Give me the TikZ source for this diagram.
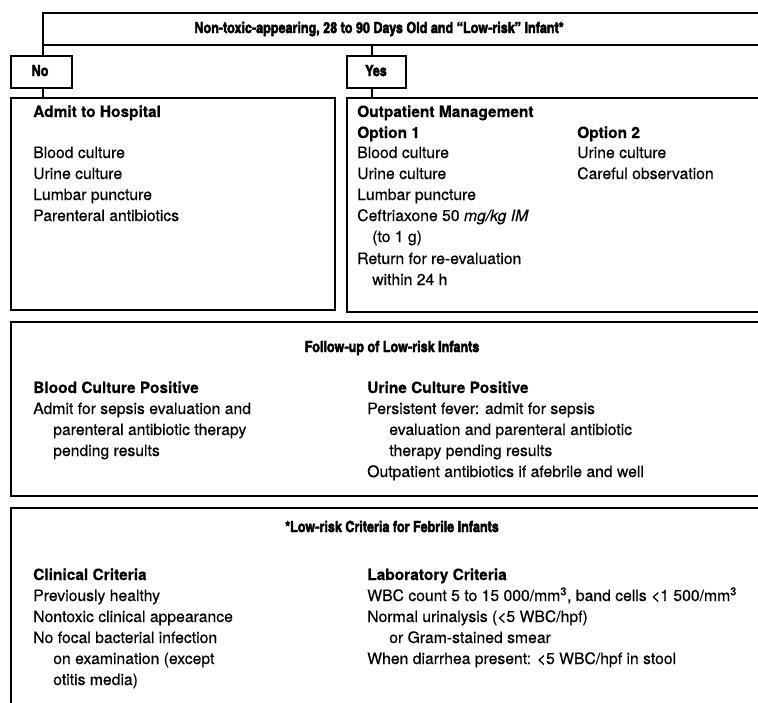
\documentclass[tikz,border=0pt]{standalone}
\usepackage{fontspec}
\setmainfont{TeX Gyre Heros}[FakeBold=0.4]
\newfontfamily\cnb{texgyreheroscn-bold.otf}[FakeBold=2.6]
\usetikzlibrary{fit}
\begin{document}
\begin{tikzpicture}[x=0.75pt,y=-0.75pt,
  box/.style={draw, line width=1.4pt, inner sep=0pt},
  link/.style={line width=1.4pt},
  txt/.style={anchor=base west, inner sep=0pt, font=\fontsize{11.8}{14}\selectfont},
  hd/.style={anchor=base west, inner sep=0pt, font=\fontsize{11.6}{14}\selectfont\bfseries},
  ttl/.style={anchor=base, inner sep=0pt, font=\fontsize{11.5}{14}\selectfont\cnb}]
\useasboundingbox (0,0) rectangle (758,703);
\clip (0,0) rectangle (758,703);
% box corners
\coordinate (t1) at (43,13);  \coordinate (t2) at (800,45);
\coordinate (n1) at (11,56);  \coordinate (n2) at (72,88);
\coordinate (y1) at (347,56); \coordinate (y2) at (406,88);
\coordinate (a1) at (11,98);  \coordinate (a2) at (335,310);
\coordinate (o1) at (347,98); \coordinate (o2) at (800,312);
\coordinate (f1) at (11,322); \coordinate (f2) at (800,496);
\coordinate (c1) at (11,508); \coordinate (c2) at (800,740);
\coordinate (nx) at (43,0);   \coordinate (yx) at (372,0);
\node[box, fit=(t1)(t2)] (top) {};
\node[box, fit=(n1)(n2)] (no) {};
\node[box, fit=(y1)(y2)] (yes) {};
\node[box, fit=(a1)(a2)] (admit) {};
\node[box, fit=(o1)(o2)] (outp) {};
\node[box, fit=(f1)(f2)] (follow) {};
\node[box, fit=(c1)(c2)] (crit) {};
% connectors
\draw[link] (top.south -| nx) -- (no.north -| nx);
\draw[link] (no.south -| nx) -- (admit.north -| nx);
\draw[link] (top.south -| yx) -- (yes.north -| yx);
\draw[link] (yes.south -| yx) -- (outp.north -| yx);
% titles
\node[ttl] (ttop) at (379,33) {Non-toxic-appearing, 28 to 90 Days Old and “Low-risk” Infant*};
\node[ttl] (tno) at (40,76) {No};
\node[ttl] (tyes) at (376,76) {Yes};
% admit
\node[hd] (ah) at (33,117) {Admit to Hospital};
\node[txt] (a1t) at (33,158) {Blood culture};
\node[txt] (a2t) at (33,179) {Urine culture};
\node[txt] (a3t) at (33,200) {Lumbar puncture};
\node[txt] (a4t) at (33,221) {Parenteral antibiotics};
% outpatient
\node[hd] (oh) at (357,117) {Outpatient Management};
\node[hd] (op1) at (357,138) {Option 1};
\node[txt] (o1a) at (357,158) {Blood culture};
\node[txt] (o1b) at (357,179) {Urine culture};
\node[txt] (o1c) at (357,200) {Lumbar puncture};
\node[txt] (o1d) at (357,221) {Ceftriaxone 50 \textit{mg/kg IM}};
\node[txt] (o1e) at (372,242) {(to 1 g)};
\node[txt] (o1f) at (357,264) {Return for re-evaluation};
\node[txt] (o1g) at (372,285) {within 24 h};
\node[hd] (op2) at (577,138) {Option 2};
\node[txt] (o2a) at (577,158) {Urine culture};
\node[txt] (o2b) at (577,179) {Careful observation};
% follow-up
\node[ttl] (tfol) at (392,352) {Follow-up of Low-risk Infants};
\node[hd] (bh) at (33,393) {Blood Culture Positive};
\node[txt] (b1) at (33,414) {Admit for sepsis evaluation and};
\node[txt] (b2) at (53,435) {parenteral antibiotic therapy};
\node[txt] (b3) at (53,456) {pending results};
\node[hd] (uh) at (367,393) {Urine Culture Positive};
\node[txt] (u1) at (367,414) {Persistent fever: admit for sepsis};
\node[txt] (u2) at (389,435) {evaluation and parenteral antibiotic};
\node[txt] (u3) at (389,456) {therapy pending results};
\node[txt] (u4) at (367,477) {Outpatient antibiotics if afebrile and well};
% criteria
\node[ttl] (tcrit) at (392,532) {*Low-risk Criteria for Febrile Infants};
\node[hd] (ch) at (33,580) {Clinical Criteria};
\node[txt] (k1) at (33,601) {Previously healthy};
\node[txt] (k2) at (33,622) {Nontoxic clinical appearance};
\node[txt] (k3) at (33,643) {No focal bacterial infection};
\node[txt] (k4) at (53,664) {on examination (except};
\node[txt] (k5) at (53,685) {otitis media)};
\node[hd] (lh) at (367,580) {Laboratory Criteria};
\node[txt] (l1) at (367,601) {WBC count 5 to 15 000/mm\textsuperscript{3}, band cells <1 500/mm\textsuperscript{3}};
\node[txt] (l2) at (367,622) {Normal urinalysis (<5 WBC/hpf)};
\node[txt] (l3) at (389,643) {or Gram-stained smear};
\node[txt] (l4) at (367,664) {When diarrhea present: <5 WBC/hpf in stool};
\end{tikzpicture}
\end{document}
